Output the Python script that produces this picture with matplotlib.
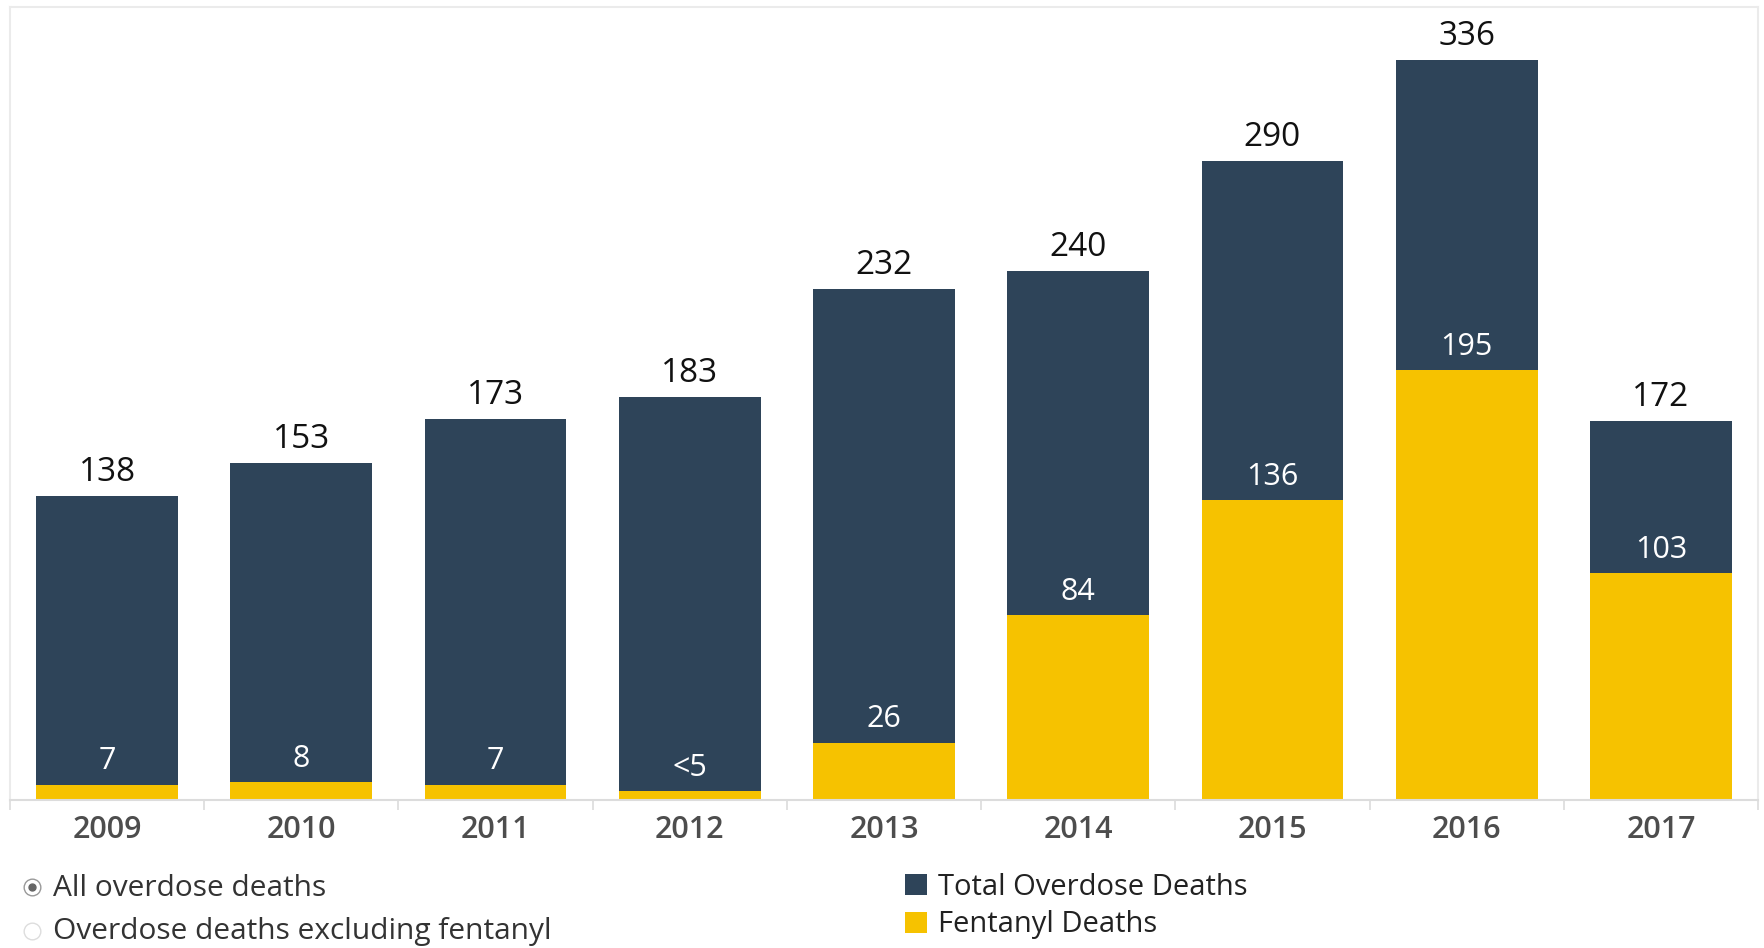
import numpy as np
import matplotlib.pyplot as plt
from matplotlib.lines import Line2D

years = ["2009", "2010", "2011", "2012", "2013", "2014", "2015", "2016", "2017"]
total_deaths = [138, 153, 173, 183, 232, 240, 290, 336, 172]
fentanyl_deaths = [7, 8, 7, 4, 26, 84, 136, 195, 103]
fentanyl_labels = ["7", "8", "7", "<5", "26", "84", "136", "195", "103"]

navy = "#2e4459"
gold = "#f6c200"
grid_gray = "#dcdcdc"

plt.rcParams["font.family"] = ["Open Sans", "DejaVu Sans"]

W, H = 1765, 948
fig = plt.figure(figsize=(W / 100, H / 100), dpi=100)
ax = fig.add_axes([10 / W, 1 - 800 / H, 1748 / W, 793 / H])

x = np.arange(len(years))
bw = 0.73
b_total = ax.bar(x, total_deaths, width=bw, color=navy, label="Total Overdose Deaths")
b_fent = ax.bar(x, fentanyl_deaths, width=bw, color=gold, label="Fentanyl Deaths")

for i in range(len(years)):
    ax.annotate(str(total_deaths[i]), (x[i], total_deaths[i]), xytext=(0, 5),
                textcoords="offset points", ha="center", va="bottom",
                fontsize=24, color="#111111")
    ax.annotate(fentanyl_labels[i], (x[i], fentanyl_deaths[i]), xytext=(0, 6),
                textcoords="offset points", ha="center", va="bottom",
                fontsize=22, color="white")

ax.set_xlim(-0.5, len(years) - 0.5)
ax.set_ylim(0, 360)
ax.set_yticks([])
ax.set_xticks(x)
ax.set_xticklabels(years, fontsize=22, color="#4d4d4d", fontweight="semibold")
ax.tick_params(axis="x", which="major", length=0, pad=11)
ax.set_xticks(np.arange(-0.5, len(years), 1.0), minor=True)
ax.tick_params(axis="x", which="minor", length=7, color=grid_gray, width=1.2)
for s in ax.spines.values():
    s.set_color("#ebebeb")
    s.set_linewidth(1.5)
ax.spines["bottom"].set_color(grid_gray)

# radio selector
fig.add_artist(Line2D([32 / W], [1 - 887 / H], marker="o", markersize=12,
                      markerfacecolor="white", markeredgecolor="#999999",
                      transform=fig.transFigure))
fig.add_artist(Line2D([32 / W], [1 - 887 / H], marker="o", markersize=5,
                      color="#666666", transform=fig.transFigure))
fig.add_artist(Line2D([32 / W], [1 - 931 / H], marker="o", markersize=12,
                      markerfacecolor="white", markeredgecolor="#dddddd",
                      transform=fig.transFigure))
fig.text(53 / W, 1 - 888 / H, "All overdose deaths", fontsize=21.5,
         color="#333333", va="center", ha="left")
fig.text(53 / W, 1 - 932 / H, "Overdose deaths excluding fentanyl", fontsize=21.5,
         color="#333333", va="center", ha="left")

fig.legend(handles=[b_total, b_fent], loc="upper left",
           bbox_to_anchor=(893 / W, 1 - 861 / H), frameon=False,
           fontsize=21, handlelength=0.75, handleheight=0.75,
           handletextpad=0.4, labelspacing=0.3, borderaxespad=0,
           labelcolor="#222222")

fig.savefig("out.png", dpi=100)
